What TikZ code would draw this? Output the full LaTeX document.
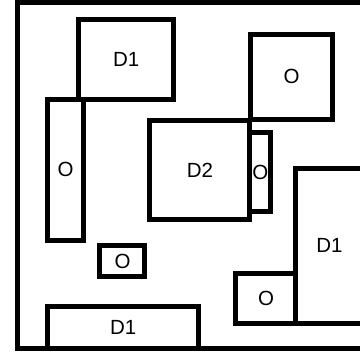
\documentclass[tikz,border=0pt]{standalone}
\usepackage{fontspec}
\setmainfont{Liberation Sans}
\begin{document}
\begin{tikzpicture}[x=1pt,y=-1pt,
  box/.style={draw=black,line width=5pt,rectangle,inner sep=0pt,outer sep=0pt,
    font=\fontsize{20.5}{22}\selectfont,text=black}]
\useasboundingbox (0,0) rectangle (360,354);
\clip (0,0) rectangle (360,354);
\fill[white] (0,0) rectangle (360,354);
\node[box,minimum width=350.5pt,minimum height=345.5pt] (frame) at (192.75,175.25) {};
\node[box,minimum width=95.5pt,minimum height=80pt] (d1a) at (126.25,59) {D1};
\node[box,minimum width=36pt,minimum height=141pt] (oa) at (65.5,169.5) {O};
\node[box,minimum width=100pt,minimum height=99pt] (d2) at (200,170) {D2};
\node[box,minimum width=82pt,minimum height=85pt] (ob) at (291.5,76.5) {O};
\node[box,minimum width=20.5pt,minimum height=79pt] (oc) at (260.25,172) {O};
\node[box,minimum width=67pt,minimum height=155pt] (d1b) at (329.5,245.5) {D1};
\node[box,minimum width=60pt,minimum height=50pt] (od) at (266,298) {O};
\node[box,minimum width=45pt,minimum height=31pt] (oe) at (122.5,261) {O};
\node[box,minimum width=151.5pt,minimum height=41.5pt] (d1c) at (123.25,327.25) {D1};
\end{tikzpicture}
\end{document}
